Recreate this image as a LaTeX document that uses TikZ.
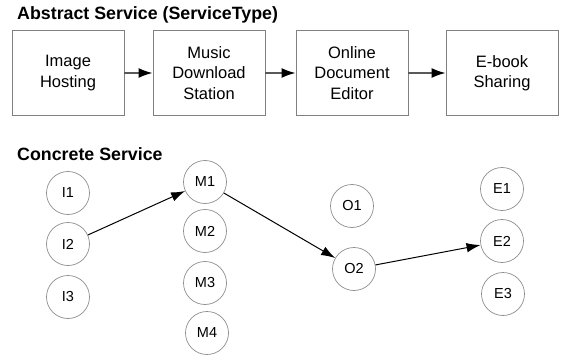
\documentclass[tikz,border=0pt]{standalone}
\usepackage{fontspec}
\setmainfont{Liberation Sans}
\usetikzlibrary{arrows.meta,positioning}

\begin{document}
\begin{tikzpicture}[x=1pt,y=-1pt,
  svcbox/.style={draw=gray, line width=0.8pt, minimum width=112pt, minimum height=85pt,
    align=center, font=\fontsize{16.5}{20.5}\selectfont},
  svcnode/.style={draw=gray!90, line width=0.7pt, circle, minimum size=43pt, inner sep=0pt,
    font=\fontsize{14.5}{16}\selectfont},
  boxlink/.style={draw=black!65, -{Latex[length=14pt,width=10pt,color=black]}, line width=1.6pt},
  nodelink/.style={-{Latex[length=14pt,width=9.5pt]}, line width=1pt},
  heading/.style={anchor=base west, inner sep=0pt, font=\fontsize{17.8}{20}\selectfont\bfseries}
]
  \useasboundingbox (0,0) rectangle (565,361);

  % Abstract services
  \node[heading] (abstitle) at (17,20) {Abstract Service (ServiceType)};
  \node[svcbox] (img) at (68,73) {Image\\Hosting};
  \node[svcbox] (mus) at (209,73) {Music\\Download\\Station};
  \node[svcbox] (onl) at (352,73) {Online\\Document\\Editor};
  \node[svcbox] (ebk) at (502,73) {E-book\\Sharing};

  \draw[boxlink] (img) -- (mus);
  \draw[boxlink] (mus) -- (onl);
  \draw[boxlink] (onl) -- (ebk);

  % Concrete services
  \node[heading] (contitle) at (17,160) {Concrete Service};
  \foreach \name/\x/\y in {I1/68/193, I2/68/244, I3/68/297,
                           M1/205/182, M2/205/231, M3/205/283, M4/207/333,
                           O1/352/206, O2/354/269,
                           E1/502/189, E2/502/241, E3/503/294} {
    \node[svcnode] (\name) at (\x,\y) {\name};
  }

  % Selected composition
  \draw[nodelink] (I2) -- (M1);
  \draw[nodelink] (M1) -- (O2);
  \draw[nodelink] (O2) -- (E2);
\end{tikzpicture}
\end{document}
